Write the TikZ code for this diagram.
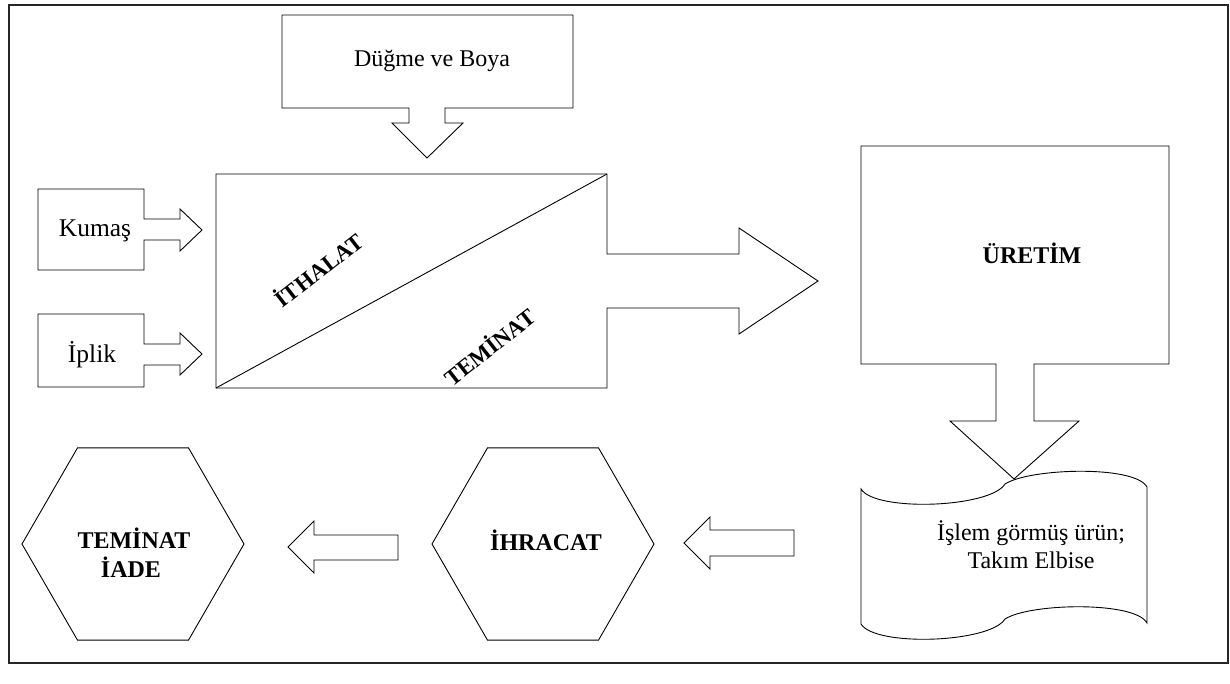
\documentclass[tikz,border=0pt]{standalone}
\usepackage{fontspec}
\setmainfont{Liberation Serif}
\usetikzlibrary{shapes.geometric}
\tikzset{
  outline/.style={draw=black, line width=0.9pt, line join=miter},
  frameline/.style={draw=black!85, line width=1.3pt},
  lbl/.style={font=\fontsize{24}{29}\selectfont, inner sep=0pt, align=center},
  biglbl/.style={font=\fontsize{25.5}{29}\selectfont, inner sep=0pt, align=center},
  blbl/.style={font=\fontsize{24}{29}\selectfont\bfseries, inner sep=0pt, align=center},
  slant/.style={font=\fontsize{23}{27}\selectfont\bfseries, inner sep=0pt, rotate=38},
  hexagon/.style={regular polygon, regular polygon sides=6, minimum size=222pt,
    inner sep=0pt, draw=black, line width=0.9pt},
}
\begin{document}
\begin{tikzpicture}[x=1pt, y=-1pt]
\useasboundingbox (0,0) rectangle (1230,684);
% outer frame
\draw[frameline] (9,5) rectangle (1228,663);

% Dugme ve Boya callout with down arrow
\draw[outline] (282,15) -- (573,15) -- (573,108) -- (445,108) -- (445,123) -- (463,123)
  -- (427,158) -- (392,123) -- (409,123) -- (409,108) -- (282,108) -- cycle;
\node[lbl, anchor=base] (dugme) at (432,67) {Düğme ve Boya};

% Kumas callout
\draw[outline] (38,189) -- (144,189) -- (144,219) -- (180,219) -- (180,209) -- (202,230)
  -- (180,251) -- (180,240) -- (144,240) -- (144,270) -- (38,270) -- cycle;
\node[biglbl, anchor=base] (kumas) at (95,237) {Kumaş};

% Iplik callout
\draw[outline] (38,314) -- (144,314) -- (144,344) -- (180,344) -- (180,333) -- (202,354)
  -- (180,375) -- (180,365) -- (144,365) -- (144,387) -- (38,387) -- cycle;
\node[biglbl, anchor=base] (iplik) at (92,362) {İplik};

% Big rectangle with right arrow
\draw[outline] (216,174) -- (607,174) -- (607,254) -- (739,254) -- (739,228) -- (818,281)
  -- (739,334) -- (739,308) -- (607,308) -- (607,388) -- (216,388) -- cycle;
\coordinate (bl) at (216,388);
\coordinate (tr) at (607,174);
\draw[line width=0.9pt] (bl) -- (tr);
\node[slant] (ithalat) at (318,269) {İTHALAT};
\node[slant] (teminat) at (489,346) {TEMİNAT};

% URETIM callout with down arrow
\draw[outline] (861,146) -- (1169,146) -- (1169,364) -- (1034,364) -- (1034,421) -- (1079,421)
  -- (1014,479) -- (950,421) -- (996,421) -- (996,364) -- (861,364) -- cycle;
\node[blbl, anchor=base] (uretim) at (1032,264) {ÜRETİM};

% document (wavy) shape
\draw[outline] (861,489) .. controls (875,512) and (990,508) .. (1005,484)
  .. controls (1030,468) and (1135,465) .. (1147,487) -- (1147,623)
  .. controls (1135,601) and (1030,603) .. (1005,619)
  .. controls (990,643) and (875,647) .. (861,624) -- cycle;
\node[lbl, anchor=base] (urun1) at (1031,540) {İşlem görmüş ürün;};
\node[lbl, anchor=base] (urun2) at (1031,568) {Takım Elbise};

% hexagons
\node[hexagon] (ihracat) at (543,544) {};
\node[blbl, anchor=base] (ihracatlbl) at (546,550) {İHRACAT};
\node[hexagon] (iade) at (133,544) {};
\node[blbl, anchor=base] (iadelbl1) at (134,548) {TEMİNAT};
\node[blbl, anchor=base] (iadelbl2) at (131,577) {İADE};

% left-pointing block arrows
\draw[outline] (794,530) -- (710,530) -- (710,517) -- (684,543) -- (710,569) -- (710,556)
  -- (794,556) -- cycle;
\draw[outline] (398,535) -- (314,535) -- (314,521) -- (288,547) -- (314,573) -- (314,560)
  -- (398,560) -- cycle;
\end{tikzpicture}
\end{document}
